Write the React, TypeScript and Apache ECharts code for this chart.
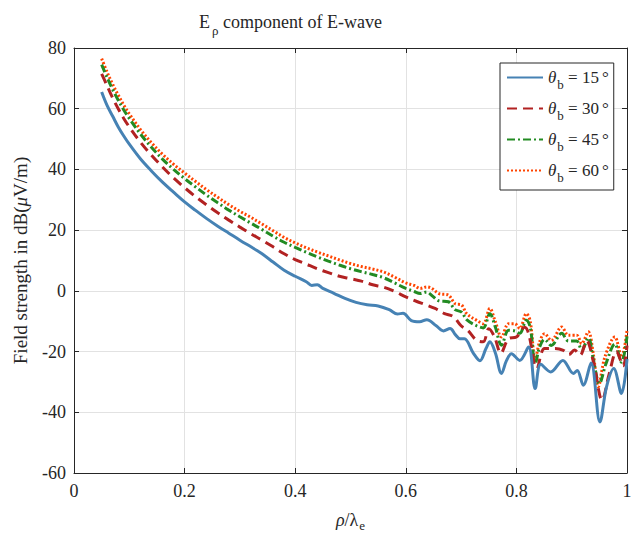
import React, { useEffect, useRef } from "react";
import * as echarts from "echarts";

const seriesNames = ["θb = 15°", "θb = 30°", "θb = 45°", "θb = 60°"];
const seriesColors = ["#4682B4", "#B22222", "#228B22", "#FF4500"];

const blue15: [number, number][] = [
  [0.05, 65.5], [0.06, 61], [0.07, 57.5], [0.08, 54], [0.09, 51], [0.1, 48.3],
  [0.12, 43.5], [0.14, 39.5], [0.16, 35.8], [0.18, 32.5], [0.2, 29.3], [0.22, 26.5],
  [0.24, 23.8], [0.26, 21.3], [0.28, 19], [0.3, 16.7], [0.32, 14.5], [0.33, 13.4],
  [0.34, 12.2], [0.36, 9.5], [0.38, 6.8], [0.4, 4.8], [0.42, 3.0], [0.43, 1.8],
  [0.44, 2.0], [0.45, 0.8], [0.47, -0.8], [0.49, -2.5], [0.51, -3.8], [0.53, -4.6],
  [0.55, -5.0], [0.57, -6.2], [0.585, -7.6], [0.595, -7.4], [0.61, -9.8], [0.625, -10.2],
  [0.638, -9.5], [0.655, -11.5], [0.668, -13.2], [0.68, -12.4], [0.69, -14.5], [0.698, -15.8],
  [0.706, -15.8], [0.722, -20.5], [0.734, -23], [0.745, -19], [0.752, -16.8], [0.762, -20.5],
  [0.773, -27.2], [0.782, -23], [0.791, -20.7], [0.806, -22.9], [0.822, -18.5], [0.834, -32.2],
  [0.844, -24.2], [0.862, -26.7], [0.884, -22.9], [0.903, -27.2], [0.91, -26.2], [0.921, -31.1],
  [0.935, -23.8], [0.951, -43.2], [0.963, -31.6], [0.976, -25.6], [0.99, -33.8], [1.0, -22.5],
];

const red30: [number, number][] = [
  [0.05, 71.5], [0.06, 67.5], [0.07, 63.5], [0.08, 60], [0.09, 56.8], [0.1, 54],
  [0.12, 49], [0.14, 44.7], [0.16, 40.8], [0.18, 37.2], [0.2, 34], [0.22, 31],
  [0.24, 28.3], [0.26, 25.7], [0.28, 23.3], [0.3, 21], [0.32, 18.8], [0.34, 16.7],
  [0.36, 14.5], [0.38, 12.2], [0.4, 10.3], [0.42, 8.8], [0.44, 7.3], [0.46, 6.0],
  [0.48, 4.8], [0.5, 4.0], [0.52, 3.2], [0.54, 2.0], [0.56, 1.2], [0.58, -0.2],
  [0.6, -2.0], [0.62, -3.5], [0.635, -4.5], [0.653, -5.8], [0.67, -7.5], [0.686, -8.5],
  [0.7, -11.5], [0.712, -13], [0.728, -16.3], [0.74, -16.8], [0.75, -12.5], [0.76, -15],
  [0.772, -20.5], [0.786, -15.7], [0.8, -15.2], [0.815, -12], [0.822, -14], [0.837, -25.6],
  [0.851, -19], [0.87, -19], [0.885, -19.6], [0.895, -21], [0.905, -19.5], [0.915, -21.2],
  [0.927, -16.5], [0.94, -24], [0.955, -36], [0.968, -27.2], [0.981, -20], [0.993, -24.7],
  [1.0, -18],
];

const green45: [number, number][] = [
  [0.05, 74.5], [0.06, 70.2], [0.07, 66.3], [0.08, 62.8], [0.09, 59.6], [0.1, 56.8],
  [0.12, 51.7], [0.14, 47.3], [0.16, 43.4], [0.18, 40], [0.2, 37], [0.22, 34.2],
  [0.24, 31.5], [0.26, 29], [0.28, 26.6], [0.3, 24.4], [0.32, 22.3], [0.34, 20.2],
  [0.36, 18], [0.38, 16], [0.4, 14.3], [0.42, 12.7], [0.44, 11.2], [0.46, 9.8],
  [0.48, 8.5], [0.5, 7.3], [0.52, 6.3], [0.54, 5.4], [0.56, 4.3], [0.58, 2.6],
  [0.6, 0.8], [0.615, -0.2], [0.626, -0.9], [0.638, -0.4], [0.647, -1.5], [0.66, -3.3],
  [0.677, -3.6], [0.689, -6.2], [0.701, -7], [0.71, -9.5], [0.728, -11.5], [0.74, -12.2],
  [0.752, -7.5], [0.762, -12], [0.773, -17.9], [0.786, -13], [0.797, -13.2], [0.806, -14],
  [0.818, -9.7], [0.825, -12], [0.834, -24], [0.842, -18.5], [0.851, -16], [0.863, -18],
  [0.882, -14], [0.894, -16.5], [0.909, -16.5], [0.918, -19.5], [0.93, -15.5], [0.939, -22.5],
  [0.95, -30.5], [0.962, -24], [0.978, -17.5], [0.99, -23.5], [1.0, -15],
];

const orange60: [number, number][] = [
  [0.05, 76.5], [0.06, 72], [0.07, 68], [0.08, 64.5], [0.09, 61.2], [0.1, 58.3],
  [0.12, 53.2], [0.14, 48.8], [0.16, 45], [0.18, 41.7], [0.2, 38.8], [0.22, 36],
  [0.24, 33.3], [0.26, 30.8], [0.28, 28.4], [0.3, 26.2], [0.32, 24.2], [0.34, 22],
  [0.36, 19.8], [0.38, 17.6], [0.4, 15.8], [0.42, 14.2], [0.44, 12.8], [0.46, 11.5],
  [0.48, 10.2], [0.5, 9], [0.52, 8], [0.54, 7.2], [0.56, 6.2], [0.58, 4.5],
  [0.6, 2.6], [0.615, 1.8], [0.626, 0.8], [0.638, 1.3], [0.647, 0.8], [0.66, -0.9],
  [0.677, -1.4], [0.689, -4.2], [0.701, -4.7], [0.71, -7.5], [0.728, -9.7], [0.74, -10.8],
  [0.752, -5.8], [0.762, -10.2], [0.773, -15.2], [0.786, -10.8], [0.797, -10.8], [0.806, -12.4],
  [0.818, -7.5], [0.825, -10], [0.834, -22.5], [0.842, -16.8], [0.851, -14.1], [0.863, -16.3],
  [0.882, -11.9], [0.894, -14.6], [0.909, -14.6], [0.918, -17.4], [0.93, -13.5], [0.939, -20.7],
  [0.948, -31.6], [0.96, -21.8], [0.978, -15.2], [0.99, -21.8], [1.0, -13],
];

const seriesData = [blue15, red30, green45, orange60];
const lineTypes: any[] = ["solid", [10, 6], [8, 3, 2, 3], [2, 2]];

const xTicks = { min: 0, max: 1, interval: 0.2 };
const yTicks = { min: -60, max: 80, interval: 20 };

const FONT = "Liberation Serif";
const INK = "#262626";

export default function App() {
  const ref = useRef<HTMLDivElement>(null);
  useEffect(() => {
    if (!ref.current) return;
    const chart = echarts.init(ref.current, undefined, { renderer: "svg" });
    const axisCommon = {
      axisLine: { show: true, onZero: false, lineStyle: { color: INK, width: 1 } },
      axisTick: { show: true, inside: true, length: 5, lineStyle: { color: INK } },
    };
    chart.setOption({
      animation: false,
      backgroundColor: "#fff",
      textStyle: { fontFamily: FONT },
      title: {
        text: "E{sub|ρ} component of E-wave",
        left: 194,
        top: 1,
        textStyle: {
          fontFamily: FONT,
          fontSize: 18,
          fontWeight: "normal",
          color: INK,
          rich: {
            sub: { fontFamily: FONT, fontSize: 13, color: INK, padding: [18, 0, 0, 2] },
          },
        },
      },
      grid: {
        left: 74,
        right: 9,
        top: 48,
        bottom: 63,
        containLabel: false,
        outerBoundsMode: "none",
      },
      legend: {
        orient: "vertical",
        left: 500,
        top: 63,
        padding: [6, 5, 6, 6],
        itemGap: 9,
        itemWidth: 36,
        itemHeight: 14,
        borderColor: INK,
        borderWidth: 1,
        backgroundColor: "#fff",
        itemStyle: { opacity: 0 },
        data: seriesNames,
        formatter: (name: string) => {
          const deg = name.replace("θb = ", "").replace("°", "");
          return "{i|θ}{sub|b}{t| = " + deg + "}{deg|°}";
        },
        textStyle: {
          fontFamily: FONT,
          fontSize: 17,
          color: INK,
          rich: {
            i: { fontFamily: FONT, fontStyle: "italic", fontSize: 17, color: INK },
            sub: { fontFamily: FONT, fontSize: 13, color: INK, padding: [14, 0, 0, 1] },
            t: { fontFamily: FONT, fontSize: 17, color: INK },
            deg: { fontFamily: FONT, fontSize: 17, color: INK, padding: [0, 0, 0, 3] },
          },
        },
      },
      xAxis: [
        {
          type: "value",
          ...xTicks,
          position: "bottom",
          ...axisCommon,
          axisLabel: { fontFamily: FONT, fontSize: 18, color: INK, margin: 9 },
          splitLine: { show: true, lineStyle: { color: "#e2e2e2", width: 1 } },
          name: "{i|ρ}/λ{sub|e}",
          nameLocation: "middle",
          nameGap: 34,
          nameTextStyle: {
            fontFamily: FONT,
            fontSize: 18,
            color: INK,
            rich: {
              i: { fontFamily: FONT, fontStyle: "italic", fontSize: 18, color: INK },
              sub: { fontFamily: FONT, fontSize: 13, color: INK, padding: [12, 0, 0, 1] },
            },
          },
        },
        {
          type: "value",
          ...xTicks,
          position: "top",
          ...axisCommon,
          axisLabel: { show: false },
          splitLine: { show: false },
        },
      ],
      yAxis: [
        {
          type: "value",
          ...yTicks,
          position: "left",
          ...axisCommon,
          axisLabel: { fontFamily: FONT, fontSize: 18, color: INK, margin: 8 },
          splitLine: { show: true, lineStyle: { color: "#e2e2e2", width: 1 } },
          name: "Field strength in dB({i|μ}V/m)",
          nameLocation: "middle",
          nameGap: 44,
          nameRotate: 90,
          nameTextStyle: {
            fontFamily: FONT,
            fontSize: 19,
            color: INK,
            rich: {
              i: { fontFamily: FONT, fontStyle: "italic", fontSize: 19, color: INK },
            },
          },
        },
        {
          type: "value",
          ...yTicks,
          position: "right",
          ...axisCommon,
          axisLabel: { show: false },
          splitLine: { show: false },
        },
      ],
      series: seriesNames.map((name, i) => ({
        name,
        type: "line",
        xAxisIndex: 0,
        yAxisIndex: 0,
        data: seriesData[i],
        showSymbol: false,
        symbol: "none",
        smooth: 0.35,
        color: seriesColors[i],
        lineStyle: {
          color: seriesColors[i],
          width: 3,
          type: lineTypes[i],
        },
        z: 10 - i,
      })),
    });
    return () => chart.dispose();
  }, []);
  return (
    <div
      ref={ref}
      style={{ position: "fixed", left: 0, top: 0, width: 636, height: 536 }}
    />
  );
}
